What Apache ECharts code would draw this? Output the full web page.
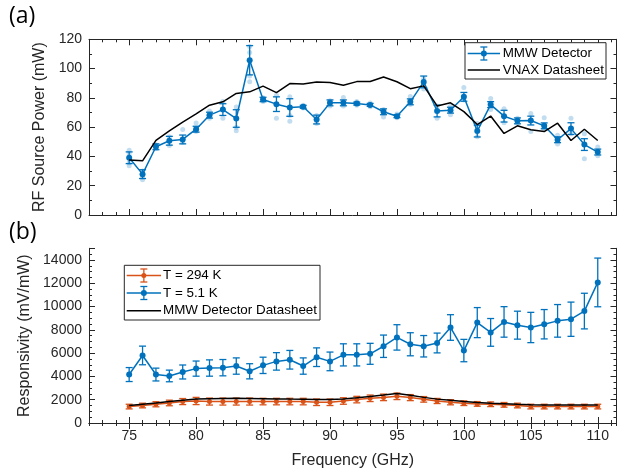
<!DOCTYPE html>
<html>
<head>
<meta charset="utf-8">
<script src="https://cdn.jsdelivr.net/npm/echarts@6/dist/echarts.min.js"></script>
<style>
  html, body { margin: 0; padding: 0; background: #fff; }
  #chart { width: 626px; height: 470px; }
</style>
</head>
<body>
<div id="chart"></div>
<script>
// ---- data ----
const freqGHz = [75,76,77,78,79,80,81,82,83,84,85,86,87,88,89,90,91,92,93,94,95,96,97,98,99,100,101,102,103,104,105,106,107,108,109,110];

// (a) RF source power, mW
const mmwPower = [39.1,27.9,46.6,50.7,51.6,58.6,68.2,72.0,65.9,105.7,78.9,75.7,73.4,73.9,65.2,76.6,76.6,76.1,75.2,70.5,67.5,77.3,90.9,71.0,71.6,80.7,57.3,75.4,67.5,64.3,64.5,60.9,51.4,59.0,48.1,43.0];
const mmwErr = [4,3,2,3,3,2,2,4,6,10,1.5,5,6,1,3,2,2,1,1,2,1,2,4,4,2,3,4,2,4,2,3,2,2,4,4,2];
const vnaxPower = [37.5,37.0,51.0,57.5,63.5,69.0,75.0,77.3,83.0,84.1,88.0,83.6,89.8,89.5,90.9,90.5,88.6,91.1,91.2,94.3,91.0,86.3,88.2,74.5,76.6,70.6,61.8,67.6,55.7,60.9,58.2,57.0,62.7,50.9,58.6,50.9];
// individual repeated measurements per frequency
const mmwSamples = [
  [44.3,42,35.7,33.6],[30,26,24],[48,45.5],[53.5,47.5],[58.4,49.5],[62.9,57],
  [71,66],[77.5,66],[73.8,57.5,60],[115,111,95,91],[80,77.5],[81.8,66],
  [80.7,64,68],[75,73],[68,62.5],[78,74.5],[80.2,74.5],[77.5,75],
  [76.5,74],[72,67],[69,66.5],[81,75.5],[93,86],[74.5,66],
  [74.5,68.5],[87,78.5],[62.5,53.5],[79.5,72],[72.5,63],[66,62.5],
  [69.3,57],[66.5,58.5],[54.5,48.5],[66,55.5],[55.5,38.5],[46.5,40.5]
];

// (b) responsivity, mV/mW
const resp294 = [1410,1500,1610,1720,1840,1890,1840,1840,1840,1840,1840,1840,1840,1840,1780,1780,1890,2010,2120,2200,2290,2180,2030,1890,1780,1700,1640,1610,1560,1500,1410,1410,1410,1410,1410,1410];
const err294 = [200,200,220,240,260,310,300,300,300,300,280,280,280,280,280,280,280,280,280,280,280,260,240,220,220,200,200,200,200,200,200,200,200,200,200,200];
const resp51 = [4160,5800,4160,4040,4380,4670,4720,4750,4890,4440,4950,5290,5430,4890,5650,5290,5850,5850,5940,6590,7350,6760,6590,6870,8200,6220,8620,7780,8680,8400,8200,8480,8770,8910,9610,12070];
const err51 = [600,800,550,500,600,650,700,700,700,650,700,750,800,700,800,800,950,950,900,960,1090,990,920,850,1100,960,1290,1190,1310,1200,1300,1260,1400,1470,1530,2090];
const respDatasheet = [1500,1610,1720,1840,1950,2060,2090,2110,2120,2110,2090,2070,2050,2040,2020,2010,2060,2160,2280,2400,2540,2380,2200,2050,1950,1850,1760,1700,1650,1600,1560,1550,1550,1550,1550,1550];

const majorFreqTicks = [75,80,85,90,95,100,105,110];

// ---- style ----
const BLUE = '#0072BD';
const ORANGE = '#D95319';
const INK = '#262626';
const FONT = '"Liberation Sans", Arial, Helvetica, sans-serif';

const GRID_LEFT = 89, GRID_W = 527.5;
const grids = [
  { left: GRID_LEFT, top: 39.3, width: GRID_W, height: 175.7 },
  { left: GRID_LEFT, top: 248.3, width: GRID_W, height: 176.7 }
];
const X_MIN = 72, X_MAX = 111.4;

function xAxes(gridIndex, showLabels) {
  const base = { type: 'value', gridIndex, min: X_MIN, max: X_MAX, splitLine: { show: false } };
  const lineOn = { show: true, lineStyle: { color: INK, width: 1 } };
  return [
    // bottom, labelled, major ticks
    Object.assign({}, base, {
      position: 'bottom', axisLine: lineOn,
      axisTick: { show: true, inside: true, length: 6, lineStyle: { color: INK }, customValues: majorFreqTicks },
      axisLabel: { show: showLabels, customValues: majorFreqTicks, color: INK, fontSize: 14, fontFamily: FONT, margin: 6 }
    }),
    // bottom minor ticks
    Object.assign({}, base, {
      position: 'bottom', interval: 1, axisLine: { show: false },
      axisTick: { show: true, inside: true, length: 3, lineStyle: { color: INK } },
      axisLabel: { show: false }
    }),
    // top minor ticks + box line
    Object.assign({}, base, {
      position: 'top', interval: 1, axisLine: lineOn,
      axisTick: { show: true, inside: true, length: 3, lineStyle: { color: INK } },
      axisLabel: { show: false }
    }),
    // top major ticks
    Object.assign({}, base, {
      position: 'top', axisLine: { show: false },
      axisTick: { show: true, inside: true, length: 6, lineStyle: { color: INK }, customValues: majorFreqTicks },
      axisLabel: { show: false }
    })
  ];
}

const lineOn = { show: true, lineStyle: { color: INK, width: 1 } };
const yAxis = [
  // (a) left
  { type: 'value', gridIndex: 0, position: 'left', min: 0, max: 120, interval: 20,
    axisLine: lineOn, splitLine: { show: false },
    axisTick: { show: true, inside: true, length: 6, lineStyle: { color: INK } },
    minorTick: { show: true, splitNumber: 2, length: 3, lineStyle: { color: INK } },
    axisLabel: { color: INK, fontSize: 14, fontFamily: FONT, margin: 7 },
    name: 'RF Source Power (mW)', nameLocation: 'middle', nameGap: 31,
    nameTextStyle: { color: INK, fontSize: 16, fontFamily: FONT } },
  // (a) right
  { type: 'value', gridIndex: 0, position: 'right', min: 0, max: 120, interval: 20,
    axisLine: lineOn, splitLine: { show: false },
    axisTick: { show: true, inside: true, length: 6, lineStyle: { color: INK } },
    minorTick: { show: true, splitNumber: 2, length: 3, lineStyle: { color: INK } },
    axisLabel: { show: false } },
  // (b) left, labelled majors
  { type: 'value', gridIndex: 1, position: 'left', min: 0, max: 15000, interval: 2000,
    axisLine: lineOn, splitLine: { show: false },
    axisTick: { show: true, inside: true, length: 6, lineStyle: { color: INK } },
    axisLabel: { color: INK, fontSize: 14, fontFamily: FONT, margin: 7,
      formatter: v => (v % 2000 === 0 ? String(v) : '') },
    name: 'Responsivity (mV/mW)', nameLocation: 'middle', nameGap: 46,
    nameTextStyle: { color: INK, fontSize: 16, fontFamily: FONT } },
  // (b) left minors
  { type: 'value', gridIndex: 1, position: 'left', min: 0, max: 15000, interval: 500,
    axisLine: { show: false }, splitLine: { show: false },
    axisTick: { show: true, inside: true, length: 3, lineStyle: { color: INK } },
    axisLabel: { show: false } },
  // (b) right majors
  { type: 'value', gridIndex: 1, position: 'right', min: 0, max: 15000, interval: 2000,
    axisLine: lineOn, splitLine: { show: false },
    axisTick: { show: true, inside: true, length: 6, lineStyle: { color: INK } },
    axisLabel: { show: false } },
  // (b) right minors
  { type: 'value', gridIndex: 1, position: 'right', min: 0, max: 15000, interval: 500,
    axisLine: { show: false }, splitLine: { show: false },
    axisTick: { show: true, inside: true, length: 3, lineStyle: { color: INK } },
    axisLabel: { show: false } }
];

const xAxis = xAxes(0, false).concat(xAxes(1, true));
xAxis[4].name = 'Frequency (GHz)';
xAxis[4].nameLocation = 'middle';
xAxis[4].nameGap = 30;
xAxis[4].nameTextStyle = { color: INK, fontSize: 16, fontFamily: FONT };

// vertical error bar with caps, positioned through the axis scales
function errorBars(color, capHalf) {
  return function (params, api) {
    const x = api.value(0), y = api.value(1), e = api.value(2);
    const hi = api.coord([x, y + e]);
    const lo = api.coord([x, y - e]);
    const st = { stroke: color, lineWidth: 1.3 };
    return {
      type: 'group',
      children: [
        { type: 'line', shape: { x1: hi[0], y1: hi[1], x2: lo[0], y2: lo[1] }, style: st },
        { type: 'line', shape: { x1: hi[0] - capHalf, y1: hi[1], x2: hi[0] + capHalf, y2: hi[1] }, style: st },
        { type: 'line', shape: { x1: lo[0] - capHalf, y1: lo[1], x2: lo[0] + capHalf, y2: lo[1] }, style: st }
      ]
    };
  };
}

const zip = (a, b) => a.map((v, i) => [v, b[i]]);
const zip3 = (a, b, c) => a.map((v, i) => [v, b[i], c[i]]);

const sampleData = [];
mmwSamples.forEach((list, i) => list.forEach(v => sampleData.push([freqGHz[i], v])));

const series = [
  // (a)
  { type: 'scatter', name: 'samples', xAxisIndex: 0, yAxisIndex: 0, data: sampleData,
    symbol: 'circle', symbolSize: 5, itemStyle: { color: 'rgba(0,114,189,0.3)' }, silent: true },
  { type: 'custom', xAxisIndex: 0, yAxisIndex: 0, data: zip3(freqGHz, mmwPower, mmwErr),
    renderItem: errorBars(BLUE, 3.5), encode: { x: 0, y: 1 }, z: 3 },
  { type: 'line', name: 'MMW Detector', xAxisIndex: 0, yAxisIndex: 0, data: zip(freqGHz, mmwPower),
    symbol: 'circle', symbolSize: 6, showSymbol: true,
    lineStyle: { color: BLUE, width: 1.5 }, itemStyle: { color: BLUE }, z: 4 },
  { type: 'line', name: 'VNAX Datasheet', xAxisIndex: 0, yAxisIndex: 0, data: zip(freqGHz, vnaxPower),
    symbol: 'none', lineStyle: { color: '#000', width: 1.5 }, z: 5 },
  // (b)
  { type: 'custom', xAxisIndex: 4, yAxisIndex: 2, data: zip3(freqGHz, resp294, err294),
    renderItem: errorBars(ORANGE, 3.5), encode: { x: 0, y: 1 }, z: 3 },
  { type: 'line', name: 'T = 294 K', xAxisIndex: 4, yAxisIndex: 2, data: zip(freqGHz, resp294),
    symbol: 'circle', symbolSize: 5, lineStyle: { color: ORANGE, width: 1.5 }, itemStyle: { color: ORANGE }, z: 4 },
  { type: 'custom', xAxisIndex: 4, yAxisIndex: 2, data: zip3(freqGHz, resp51, err51),
    renderItem: errorBars(BLUE, 3.5), encode: { x: 0, y: 1 }, z: 3 },
  { type: 'line', name: 'T = 5.1 K', xAxisIndex: 4, yAxisIndex: 2, data: zip(freqGHz, resp51),
    symbol: 'circle', symbolSize: 6, lineStyle: { color: BLUE, width: 1.5 }, itemStyle: { color: BLUE }, z: 4 },
  { type: 'line', name: 'MMW Detector Datasheet', xAxisIndex: 4, yAxisIndex: 2, data: zip(freqGHz, respDatasheet),
    symbol: 'none', lineStyle: { color: '#000', width: 1.5 }, z: 5 }
];

// ---- legends and panel tags ----
function legendErrItem(x1, x2, y, color, size) {
  const cx = (x1 + x2) / 2, h = 6.5, c = 3.5;
  const st = { stroke: color, lineWidth: 1.3 };
  return [
    { type: 'line', shape: { x1, y1: y, x2, y2: y }, style: { stroke: color, lineWidth: 1.5 } },
    { type: 'line', shape: { x1: cx, y1: y - h, x2: cx, y2: y + h }, style: st },
    { type: 'line', shape: { x1: cx - c, y1: y - h, x2: cx + c, y2: y - h }, style: st },
    { type: 'line', shape: { x1: cx - c, y1: y + h, x2: cx + c, y2: y + h }, style: st },
    { type: 'circle', shape: { cx, cy: y, r: size / 2 }, style: { fill: color } }
  ];
}
function legendLineItem(x1, x2, y) {
  return [{ type: 'line', shape: { x1, y1: y, x2, y2: y }, style: { stroke: '#000', lineWidth: 1.5 } }];
}
function legendText(x, y, text) {
  return { type: 'text', x, y, style: { text, fill: '#000', font: '13.4px ' + FONT, verticalAlign: 'middle' } };
}

const graphic = [].concat(
  [{ type: 'text', x: 9, y: 5, style: { text: '(a)', fill: '#000', font: '23px "Open Sans", "DejaVu Sans", sans-serif' } },
   { type: 'text', x: 9, y: 221, style: { text: '(b)', fill: '#000', font: '23px "Open Sans", "DejaVu Sans", sans-serif' } }],
  // (a) legend
  [{ type: 'rect', shape: { x: 465, y: 42.7, width: 141, height: 36.3 }, style: { fill: '#fff', stroke: INK, lineWidth: 1 }, z: 10 }],
  legendErrItem(467.7, 500, 53.5, BLUE, 6).map(e => Object.assign(e, { z: 11 })),
  legendLineItem(467.7, 500, 70).map(e => Object.assign(e, { z: 11 })),
  [Object.assign(legendText(502.7, 53.5, 'MMW Detector'), { z: 11 }),
   Object.assign(legendText(502.7, 70, 'VNAX Datasheet'), { z: 11 })],
  // (b) legend
  [{ type: 'rect', shape: { x: 124.3, y: 265.3, width: 195.7, height: 54.7 }, style: { fill: '#fff', stroke: INK, lineWidth: 1 }, z: 10 }],
  legendErrItem(126.7, 161, 275.5, ORANGE, 5).map(e => Object.assign(e, { z: 11 })),
  legendErrItem(126.7, 161, 293, BLUE, 6).map(e => Object.assign(e, { z: 11 })),
  legendLineItem(126.7, 161, 310.7).map(e => Object.assign(e, { z: 11 })),
  [Object.assign(legendText(163, 275.5, 'T = 294 K'), { z: 11 }),
   Object.assign(legendText(163, 293, 'T = 5.1 K'), { z: 11 }),
   Object.assign(legendText(163, 310.7, 'MMW Detector Datasheet'), { z: 11 })]
);

const chart = echarts.init(document.getElementById('chart'), null, { renderer: 'canvas' });
chart.setOption({
  animation: false,
  backgroundColor: '#fff',
  grid: grids,
  xAxis,
  yAxis,
  series,
  graphic
});
</script>
</body>
</html>
